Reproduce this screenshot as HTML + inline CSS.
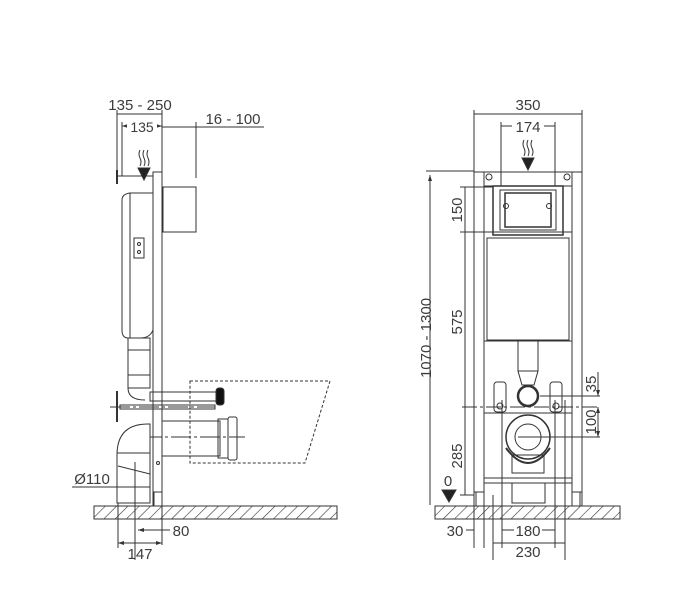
<!DOCTYPE html>
<html><head><meta charset="utf-8"><style>
html,body{margin:0;padding:0;background:#fff;}
svg{display:block;font-family:"Liberation Sans",sans-serif;}
text{fill:#3c3c3c;font-size:15px;}
</style></head><body>
<svg width="700" height="604" viewBox="0 0 700 604" xmlns="http://www.w3.org/2000/svg">
<defs>
<pattern id="h" width="8" height="8" patternUnits="userSpaceOnUse" patternTransform="rotate(45)">
<line x1="0" y1="0" x2="0" y2="8" stroke="#333" stroke-width="1.2"/>
</pattern>
<marker id="a" markerWidth="6" markerHeight="6" refX="6" refY="3" orient="auto-start-reverse"><path d="M0,1 L6,3 L0,5z" fill="#333"/></marker>
</defs>
<g stroke="#333" fill="none" stroke-width="1">
<rect x="94" y="506" width="243" height="13" fill="url(#h)"/>
<rect x="435" y="506" width="185" height="13" fill="url(#h)"/>

<rect x="153" y="172" width="9" height="334" fill="#fff"/>
<line x1="117" y1="176" x2="153" y2="176"/>
<line x1="117" y1="170" x2="117" y2="184" stroke-width="2"/>
<rect x="163" y="187" width="33" height="45"/>
<path d="M122,200 Q122,194 130,193 L153,193 L153,330 Q150,338 140,338 L128,338 Q122,338 122,330Z" fill="#fff"/>
<line x1="130" y1="193" x2="130" y2="338"/>
<rect x="134" y="238" width="10" height="20"/>
<circle cx="139" cy="244" r="1.5"/><circle cx="139" cy="252" r="1.5"/>
<rect x="128" y="338" width="22" height="50"/>
<line x1="128" y1="350" x2="150" y2="350"/><line x1="128" y1="375" x2="150" y2="375"/>
<path d="M128,388 Q128,400 145,400"/>
<rect x="150" y="392" width="68" height="9"/>
<rect x="216" y="388" width="8" height="17" rx="3" fill="#111"/>
<line x1="110" y1="407" x2="215" y2="407" stroke-dasharray="20,3,3,3"/>
<rect x="120" y="405" width="95" height="4"/>
<line x1="117" y1="391" x2="117" y2="422" stroke-width="2"/>
<rect x="162" y="421" width="58" height="35"/>
<rect x="218" y="419" width="10" height="39"/>
<rect x="228" y="417" width="9" height="43" rx="2"/>
<line x1="142" y1="437" x2="245" y2="437" stroke-dasharray="20,3,3,3"/>
<path d="M117,503 L117,455 Q117,424 148,424 L150,424 L150,503 Z" fill="#fff"/>
<line x1="117" y1="453" x2="150" y2="453"/>
<line x1="118" y1="466" x2="150" y2="474"/>
<line x1="135" y1="462" x2="135" y2="560"/>
<circle cx="158" cy="463" r="1.5"/>
<rect x="154" y="492" width="8" height="14"/>
<path d="M190,381 L330,381 L305,463 L190,463Z" stroke-dasharray="3,2"/>
<line x1="117" y1="114" x2="162" y2="114"/>
<line x1="117" y1="110" x2="117" y2="176"/>
<line x1="162" y1="110" x2="162" y2="172"/>
<line x1="122" y1="126" x2="162" y2="126" marker-start="url(#a)" marker-end="url(#a)"/>
<line x1="122" y1="122" x2="122" y2="176"/>
<line x1="162" y1="127" x2="264" y2="127"/>
<line x1="196" y1="122" x2="196" y2="178"/>
<line x1="72" y1="487" x2="150" y2="487"/>
<line x1="138" y1="530" x2="162" y2="530" marker-start="url(#a)"/>
<line x1="162" y1="506" x2="162" y2="545"/>
<line x1="118" y1="503" x2="118" y2="548"/>
<line x1="118" y1="543" x2="162" y2="543" marker-start="url(#a)" marker-end="url(#a)"/>
<line x1="162" y1="530" x2="170" y2="530"/>
<path d="M140,150 q-2,4 0,8 q2,4 0,8 M144,150 q-2,4 0,8 q2,4 0,8 M148,150 q-2,4 0,8 q2,4 0,8"/>
<path d="M138,168 L150,168 L144,180Z" fill="#222"/>

<rect x="474" y="172" width="108" height="334" fill="none"/>
<rect x="474" y="172" width="10" height="320" fill="#fff"/>
<rect x="572" y="172" width="10" height="320" fill="#fff"/>
<rect x="476" y="492" width="8" height="14"/><rect x="572" y="492" width="8" height="14"/>
<circle cx="489" cy="177" r="3"/><circle cx="567" cy="177" r="3"/>
<rect x="484" y="186" width="88" height="155" fill="#fff"/>
<rect x="493" y="186" width="70" height="49" stroke-width="1.5"/>
<rect x="500" y="190" width="56" height="40"/>
<rect x="505" y="193" width="46" height="34" stroke-width="1.5"/>
<circle cx="506" cy="206" r="2.5"/><circle cx="549" cy="206" r="2.5"/>
<rect x="487" y="238" width="82" height="102"/>
<line x1="484" y1="232" x2="572" y2="232"/>
<rect x="518" y="341" width="20" height="30"/>
<path d="M518,371 L522,385 L534,385 L538,371"/>
<circle cx="528" cy="396" r="10" stroke-width="2.5"/>
<rect x="494" y="382" width="12" height="30" rx="3"/><rect x="550" y="382" width="12" height="30" rx="3"/>
<circle cx="500" cy="406" r="3"/><circle cx="556" cy="406" r="3"/>
<line x1="484" y1="413" x2="572" y2="413"/>
<circle cx="528" cy="437" r="22" stroke-width="1.5"/>
<circle cx="528" cy="437" r="13"/>
<path d="M506,448 Q528,478 550,448" stroke-width="2"/>
<rect x="512" y="455" width="32" height="18"/>
<line x1="484" y1="478" x2="572" y2="478"/>
<line x1="484" y1="483" x2="572" y2="483"/>
<rect x="512" y="483" width="33" height="20"/>
<line x1="518" y1="437" x2="600" y2="437"/>
<line x1="462" y1="407" x2="600" y2="407" stroke-dasharray="15,3,3,3"/>
<line x1="540" y1="396" x2="600" y2="396"/>
<line x1="474" y1="114" x2="582" y2="114"/>
<line x1="474" y1="110" x2="474" y2="172"/><line x1="582" y1="110" x2="582" y2="172"/>
<line x1="501" y1="126" x2="555" y2="126"/>
<line x1="501" y1="122" x2="501" y2="186"/><line x1="555" y1="122" x2="555" y2="186"/>
<line x1="426" y1="171" x2="474" y2="171"/>
<line x1="430" y1="175" x2="430" y2="505" marker-start="url(#a)"/>
<line x1="465" y1="187" x2="465" y2="495"/>
<line x1="460" y1="187" x2="493" y2="187"/>
<line x1="460" y1="232" x2="487" y2="232"/>
<line x1="460" y1="495" x2="474" y2="495"/>
<line x1="598" y1="372" x2="598" y2="396" marker-end="url(#a)"/>
<line x1="598" y1="407" x2="598" y2="437" marker-start="url(#a)" marker-end="url(#a)"/>
<path d="M442,490 L456,490 L449,502Z" fill="#222"/>
<line x1="474" y1="506" x2="474" y2="548"/>
<line x1="484" y1="506" x2="484" y2="548"/>
<line x1="493" y1="495" x2="493" y2="560"/>
<line x1="565" y1="400" x2="565" y2="560"/>
<line x1="502" y1="400" x2="502" y2="548"/>
<line x1="555" y1="400" x2="555" y2="548"/>
<line x1="466" y1="530" x2="474" y2="530"/>
<line x1="502" y1="530" x2="555" y2="530"/>
<line x1="493" y1="543" x2="565" y2="543"/>
<path d="M524,140 q-2,4 0,8 q2,4 0,8 M528,140 q-2,4 0,8 q2,4 0,8 M532,140 q-2,4 0,8 q2,4 0,8"/>
<path d="M522,158 L534,158 L528,170Z" fill="#222"/>
</g>
<text x="140" y="110" text-anchor="middle">135 - 250</text>
<rect x="127" y="118" width="30" height="16" fill="#fff"/>
<text x="142" y="132" text-anchor="middle" style="font-size:14px">135</text>
<text x="233" y="124" text-anchor="middle">16 - 100</text>
<text x="92" y="484" text-anchor="middle">Ø110</text>
<text x="181" y="536" text-anchor="middle">80</text>
<text x="140" y="559" text-anchor="middle">147</text>
<text x="528" y="110" text-anchor="middle">350</text>
<rect x="512" y="118" width="32" height="16" fill="#fff"/>
<text x="528" y="132" text-anchor="middle">174</text>
<text transform="translate(431,338) rotate(-90)" text-anchor="middle">1070 - 1300</text>
<text transform="translate(462,210) rotate(-90)" text-anchor="middle">150</text>
<text transform="translate(462,322) rotate(-90)" text-anchor="middle">575</text>
<text transform="translate(462,456) rotate(-90)" text-anchor="middle">285</text>
<text transform="translate(596,384) rotate(-90)" text-anchor="middle">35</text>
<text transform="translate(596,422) rotate(-90)" text-anchor="middle">100</text>
<text x="448" y="486" text-anchor="middle">0</text>
<text x="455" y="536" text-anchor="middle">30</text>
<rect x="514" y="522" width="28" height="16" fill="#fff"/>
<text x="528" y="536" text-anchor="middle">180</text>
<text x="528" y="557" text-anchor="middle">230</text>
</svg>
</body></html>
